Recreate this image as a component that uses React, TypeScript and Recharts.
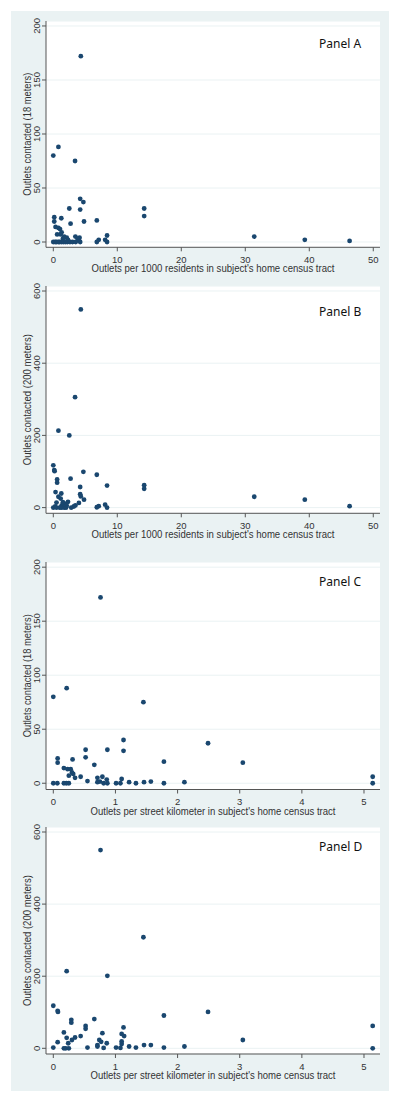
import { ScatterChart, Scatter, XAxis, YAxis, CartesianGrid } from 'recharts';

const FONT = '"Liberation Sans", Arial, sans-serif';
const NAVY = '#1a476f';
const BG = '#eaf2f3';
const AXIS = '#555';

// x = outlets per 1000 residents, y = outlets contacted (18 m)
const panelAPoints = [
  [0, 80], [0.8, 88], [3.4, 75], [4.3, 172], [4.2, 40], [4.7, 37], [2.5, 31], [4.2, 30],
  [14.2, 31], [14.2, 24], [0.15, 23], [0.15, 19], [1.25, 22], [6.8, 20], [4.8, 19], [2.7, 17],
  [0.35, 14], [0.8, 13], [1.05, 12], [1.3, 9], [0.6, 7], [1.15, 7], [1.7, 5], [2.1, 4],
  [3.45, 5], [4.1, 4], [31.4, 5], [8.4, 6], [8.1, 2], [7.1, 2], [6.8, 0], [8.4, 0],
  [39.3, 2], [46.3, 1], [2.3, 2], [4.0, 1.5], [1.5, 3], [3.8, 3],
  [0, 0], [0.3, 0], [0.5, 0], [0.8, 0], [1.0, 0], [1.3, 0], [1.6, 0], [1.9, 0],
  [2.2, 0], [2.6, 0], [3.0, 0], [3.5, 0], [4.2, 0],
];

// x = outlets per 1000 residents, y = outlets contacted (200 m)
const panelBPoints = [
  [4.3, 549], [3.4, 306], [0.8, 213], [2.5, 200], [0, 117], [0.15, 104], [0.2, 101], [4.7, 99],
  [6.8, 91], [2.7, 80], [0.6, 78], [0.6, 69], [8.4, 61], [14.2, 62], [14.2, 52], [4.2, 57],
  [0.35, 43], [1.25, 39], [4.2, 37], [4.3, 31], [0.8, 30], [1.15, 25], [4.8, 22], [31.4, 30],
  [39.3, 22], [46.3, 4], [2.3, 16], [4.0, 13], [3.45, 6], [1.8, 11], [0.5, 14], [8.1, 8],
  [7.1, 4], [6.8, 1], [8.4, 0], [1.3, 6], [1.5, 15], [2.1, 5], [3.2, 3], [0.3, 3],
  [0, 0], [0.5, 0], [1.0, 0], [1.3, 0], [1.7, 0], [2.0, 0], [2.8, 0],
];

// x = outlets per street km, y = outlets contacted (18 m)
const panelCPoints = [
  [0.76, 172], [0.215, 88], [0, 80], [1.45, 75], [1.13, 40], [2.49, 37], [0.52, 31], [0.87, 31],
  [1.13, 30], [0.52, 24], [0.07, 23], [0.07, 19], [0.31, 22], [1.78, 20], [3.05, 19], [0.66, 17],
  [0.17, 14], [0.23, 13], [0.28, 13], [0.3, 10], [0.32, 8.6], [0.25, 7], [0.44, 6], [0.35, 5],
  [5.14, 6], [5.14, 0], [0.79, 6], [0.71, 5], [1.1, 4], [0.86, 3.4], [0.55, 2], [0.71, 1],
  [0.75, 1.5], [1.22, 1], [1.46, 1], [1.57, 1.5], [2.11, 1], [0, 0], [0.065, 0], [0.17, 0],
  [0.21, 0], [0.25, 0], [0.81, 0], [0.87, 0], [1.01, 0], [1.08, 0], [1.33, 0], [1.78, 0],
];

// x = outlets per street km, y = outlets contacted (200 m)
const panelDPoints = [
  [0.76, 550], [1.45, 308], [0.215, 214], [0.87, 201], [0, 118], [0.07, 104], [0.075, 101],
  [2.49, 101], [1.78, 91], [0.66, 81], [0.29, 79], [0.29, 71], [5.14, 62], [0.52, 62],
  [0.52, 54], [1.13, 58], [0.17, 44], [0.79, 42], [1.1, 40], [1.14, 34], [0.44, 34],
  [0.35, 30], [0.215, 29], [0.3, 23], [0.74, 23], [3.05, 23], [0.77, 18], [1.1, 19],
  [0.07, 17], [0.24, 14], [0.86, 14], [1.1, 12], [0.71, 9], [1.46, 9], [1.57, 9],
  [1.22, 5], [0.71, 5], [0, 2], [0.55, 2], [1.33, 2], [1.78, 2], [2.11, 5], [1.01, 2],
  [1.08, 1], [0.81, 1], [0.17, 0], [0.2, 0], [0.25, 0], [5.14, 0],
];

const ticks18 = [0, 50, 100, 150, 200];
const ticks200 = [0, 200, 400, 600];
const ticksRes = [0, 10, 20, 30, 40, 50];
const ticksKm = [0, 1, 2, 3, 4, 5];

const titleRes = "Outlets per 1000 residents in subject's home census tract";
const titleKm = "Outlets per street kilometer in subject's home census tract";
const title18 = 'Outlets contacted (18 meters)';
const title200 = 'Outlets contacted (200 meters)';

const panels = [
  { name: 'Panel A', points: panelAPoints, xTicks: ticksRes, yTicks: ticks18, xDomain: [-1.14, 51.05], yDomain: [-4.9, 204.6], xTitle: titleRes, xLen: 243, yTitle: title18, yLen: 123, plotTop: 21, plotBottom: 247.3, nameY: 44 },
  { name: 'Panel B', points: panelBPoints, xTicks: ticksRes, yTicks: ticks200, xDomain: [-1.14, 51.05], yDomain: [-15.8, 613.9], xTitle: titleRes, xLen: 243, yTitle: title200, yLen: 131, plotTop: 286, plotBottom: 513.3, nameY: 311.5 },
  { name: 'Panel C', points: panelCPoints, xTicks: ticksKm, yTicks: ticks18, xDomain: [-0.1175, 5.2575], yDomain: [-5.8, 204.8], xTitle: titleKm, xLen: 245, yTitle: title18, yLen: 123, plotTop: 561.5, plotBottom: 789, nameY: 582.3 },
  { name: 'Panel D', points: panelDPoints, xTicks: ticksKm, yTicks: ticks200, xDomain: [-0.1175, 5.2575], yDomain: [-15.8, 613.9], xTitle: titleKm, xLen: 245, yTitle: title200, yLen: 131, plotTop: 827, plotBottom: 1054, nameY: 846.7 },
];

const Dot = (props: any) => <circle cx={props.cx} cy={props.cy} r={2.4} fill={NAVY} />;

const YTick = ({ y, payload }: any) => (
  <text transform={`translate(40,${y}) rotate(-90)`} textAnchor="middle" fontSize={9.5} fill="#333" fontFamily={FONT}>
    {payload.value}
  </text>
);

const XTitle = ({ viewBox, text, len }: any) => (
  <text
    x={viewBox.x + viewBox.width / 2 - len / 2}
    y={viewBox.y + 25}
    textLength={len}
    lengthAdjust="spacingAndGlyphs"
    fontSize={10}
    fill="#333"
    fontFamily={FONT}
  >
    {text}
  </text>
);

const YTitle = ({ viewBox, text, len }: any) => (
  <text
    transform={`translate(30.5,${viewBox.y + viewBox.height / 2}) rotate(-90)`}
    x={-len / 2}
    textLength={len}
    lengthAdjust="spacingAndGlyphs"
    fontSize={10}
    fill="#333"
    fontFamily={FONT}
  >
    {text}
  </text>
);

const Panel = ({ p }: { p: (typeof panels)[number] }) => {
  const data = p.points.map(([x, y]) => ({ x, y }));
  const height = p.plotBottom - p.plotTop + 40;
  return (
    <div style={{ position: 'absolute', left: 0, top: p.plotTop - 10 }}>
      <ScatterChart width={400} height={height} margin={{ top: 10, right: 20, bottom: 0, left: 0 }}>
        <CartesianGrid vertical={false} stroke={BG} fill="#fff" />
        <XAxis
          type="number"
          dataKey="x"
          domain={p.xDomain}
          ticks={p.xTicks}
          allowDataOverflow
          height={30}
          stroke={AXIS}
          tickSize={4}
          tickMargin={5}
          tick={{ fontSize: 9.5, fill: '#333', fontFamily: FONT }}
          label={<XTitle text={p.xTitle} len={p.xLen} />}
        />
        <YAxis
          type="number"
          dataKey="y"
          domain={p.yDomain}
          ticks={p.yTicks}
          allowDataOverflow
          width={46}
          stroke={AXIS}
          tickSize={4}
          tick={<YTick />}
          label={<YTitle text={p.yTitle} len={p.yLen} />}
        />
        <Scatter data={data} shape={<Dot />} isAnimationActive={false} />
      </ScatterChart>
      <div
        style={{
          position: 'absolute',
          left: 319,
          top: p.nameY - p.plotTop + 10 - 9,
          fontFamily: '"Noto Sans", sans-serif',
          fontSize: 12,
          lineHeight: '18px',
          color: '#111',
        }}
      >
        {p.name}
      </div>
    </div>
  );
};

export default function App() {
  return (
    <div style={{ position: 'absolute', left: 0, top: 0, width: 400, height: 1103, background: '#fff' }}>
      <div style={{ position: 'absolute', left: 11, top: 11, width: 378, height: 1080, background: BG }} />
      {panels.map((p) => (
        <Panel key={p.name} p={p} />
      ))}
    </div>
  );
}
